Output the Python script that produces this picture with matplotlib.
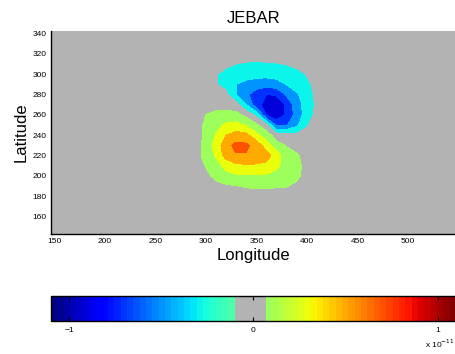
# -*- coding: utf-8 -*-
"""
JEBAR term - filled contour map with gray zero band and horizontal colorbar
"""
#%% - Setup script
import numpy as np
import matplotlib.pyplot as plt
from matplotlib.colors import ListedColormap, Normalize
from matplotlib.cm import ScalarMappable

plt.close('all')
plt.rcParams['font.family'] = ['Liberation Sans', 'DejaVu Sans']

#%% - Data
# grid nodes of the patch where JEBAR is non zero, the rest of the domain is 0
lon = [290, 300, 310, 320, 330, 340, 350, 360, 370, 380, 390, 400, 410]
lat = [320, 310, 300, 290, 280, 270, 260, 250, 240, 230, 220, 210, 200, 190, 180]
# values in units of 1e-13 (rows = lat above, cols = lon above)
jebar_vals = [
    [0,   0,   0,   0,   0,   0,   0,   0,   0,   0,   0,   0,   0],
    [0,   0,  -2,  -7, -10, -12, -13, -12, -11,  -9,  -5,  -2,   0],
    [0,  -2,  -9, -14, -18, -21, -23, -23, -22, -20, -16,  -9,  -3],
    [0,  -3,  -9, -16, -30, -36, -40, -42, -38, -29, -20, -13,  -6],
    [0,   0,  -2,  -5, -30, -46, -60, -70, -68, -47, -33, -17,  -6],
    [0,   0,   0,   0,  -2, -30, -62, -78, -85, -66, -38, -22,  -6],
    [0,  10,  17,  18,  16,   4, -15, -70, -84, -66, -42, -20,  -4],
    [0,  14,  24,  33,  36,  28,  14,  -4, -55, -52, -34, -12,   0],
    [0,  14,  31,  50,  58,  56,  36,  20,   0,  -4,  -5,  -3,   0],
    [1,  17,  38,  62,  76,  74,  62,  40,  18,   9,   0,   0,   0],
    [2,  17,  32,  58,  68,  68,  64,  58,  40,  16,  13,   0,   0],
    [0,  11,  22,  36,  45,  47,  47,  45,  34,  22,  15,   4,   0],
    [0,   4,  16,  24,  27,  28,  28,  27,  24,  20,  14,   3,   0],
    [0,   0,   3,   7,   9,  12,  13,  13,  12,  11,   6,   0,   0],
    [0,   0,   0,   0,   0,   0,   0,   0,   0,   0,   0,   0,   0],
]
levels = [-0.9, -0.7, -0.5, -0.3, -0.1, 0.1, 0.3, 0.5, 0.7, 0.9]  # x 1e-11
cbar_ticks = [-1, 0, 1]

#%% - Colormap: jet(64) with the middle entries grayed out
gray = (0.7, 0.7, 0.7)
jet64 = plt.get_cmap('jet', 64)(np.arange(64))
jet64[29:34, :3] = gray
cmap = ListedColormap(jet64)
clim = 1.1
norm = Normalize(-clim, clim)

Z = np.array(jebar_vals, dtype=float)[::-1] * 1e-2  # -> units of 1e-11
LON, LAT = np.meshgrid(lon, lat[::-1])
# each band takes the colour of its lower level (matlab contourf style)
band_cols = [cmap(norm(lv)) for lv in levels[:-1]]

#%% - Plot
fig = plt.figure(figsize=(4.56, 3.54), dpi=100)
W, H = 456, 354
ax = fig.add_axes([51/W, 1 - 234/H, 405/W, 203/H])
ax.set_facecolor(gray)
ax.contourf(LON, LAT, Z, levels=levels, colors=band_cols)
ax.set_xlim(147, 547.5)
ax.set_ylim(143, 342.3)
ax.set_xticks(np.arange(150, 501, 50))
ax.set_yticks(np.arange(160, 341, 20))
ax.tick_params(length=0, labelsize=6, pad=3)
for s in ['top', 'right']:
    ax.spines[s].set_visible(False)
ax.spines['left'].set_linewidth(1.0)
ax.spines['bottom'].set_linewidth(1.0)
ax.set_title('JEBAR', fontsize=12, pad=6)
ax.set_xlabel('Longitude', fontsize=12, labelpad=2)
ax.set_ylabel('Latitude', fontsize=12, labelpad=3)

# colorbar
cax = fig.add_axes([51/W, 1 - 321/H, 405/W, 25/H])
cb = fig.colorbar(ScalarMappable(norm=norm, cmap=cmap), cax=cax, orientation='horizontal')
cb.set_ticks(cbar_ticks)
cb.set_ticklabels(['\u22121', '0', '1'])
cax.tick_params(direction='in', top=True, bottom=True, length=3, width=0.8,
                labelsize=6, pad=4)
cb.outline.set_linewidth(1.0)
fig.text(455/W, 1 - 344/H, r'x 10$^{-11}$', fontsize=6, va='center', ha='right')

fig.savefig('out.png', dpi=100)
